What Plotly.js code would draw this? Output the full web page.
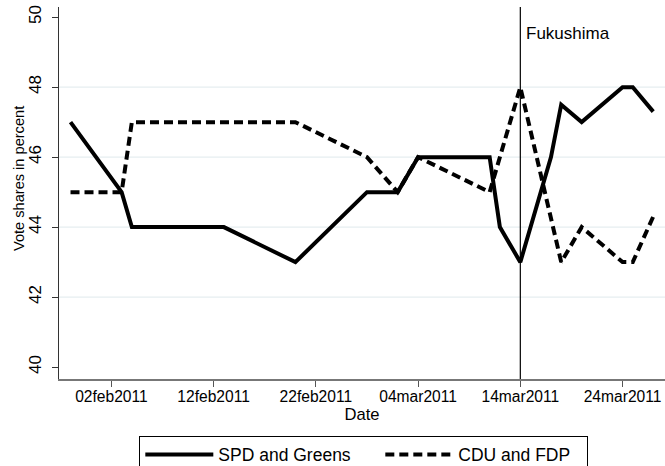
<!DOCTYPE html>
<html>
<head>
<meta charset="utf-8">
<script src="https://cdn.plot.ly/plotly-3.0.1.min.js"></script>
<style>html,body{margin:0;padding:0;background:#fff;}#chart{width:665px;height:466px;}</style>
</head>
<body>
<div id="chart"></div>
<script>
// SPD and Greens (solid)
var spdDates = ['2011-01-29','2011-02-03','2011-02-04','2011-02-13','2011-02-20','2011-02-27','2011-03-02','2011-03-04','2011-03-11','2011-03-12','2011-03-14','2011-03-17','2011-03-18','2011-03-20','2011-03-24','2011-03-25','2011-03-27'];
var spdValues = [47, 45, 44, 44, 43, 45, 45, 46, 46, 44, 43, 46, 47.5, 47, 48, 48, 47.3];
// CDU and FDP (dashed)
var cduDates = ['2011-01-29','2011-02-03','2011-02-04','2011-02-13','2011-02-20','2011-02-27','2011-03-02','2011-03-04','2011-03-11','2011-03-14','2011-03-18','2011-03-20','2011-03-24','2011-03-25','2011-03-27'];
var cduValues = [45, 45, 47, 47, 47, 46, 45, 46, 45, 48, 43, 44, 43, 43, 44.3];

var xTickDates = ['2011-02-02','2011-02-12','2011-02-22','2011-03-04','2011-03-14','2011-03-24'];
var xTickLabels = ['02feb2011','12feb2011','22feb2011','04mar2011','14mar2011','24mar2011'];
var yTickValues = [40, 42, 44, 46, 48, 50];
var yGridValues = [42, 44, 46, 48];
var eventDate = '2011-03-14';
var eventLabel = 'Fukushima';

var FONT = 'Liberation Sans, Arial, Helvetica, sans-serif';

var traces = [
  {x: spdDates, y: spdValues, type: 'scatter', mode: 'lines', name: 'SPD and Greens',
   line: {color: '#000', width: 4}, legendwidth: 157},
  {x: cduDates, y: cduValues, type: 'scatter', mode: 'lines', name: 'CDU and FDP',
   line: {color: '#000', width: 4, dash: '9px,5px'}, legendwidth: 124}
];

var shapes = yGridValues.map(function(v){
  return {type: 'line', xref: 'paper', x0: 0, x1: 1, yref: 'y', y0: v, y1: v,
          line: {color: '#e6eef0', width: 1.2}, layer: 'below'};
});
shapes.push({type: 'line', xref: 'x', x0: eventDate, x1: eventDate, yref: 'paper', y0: 0, y1: 1,
             line: {color: '#000', width: 1.2}, layer: 'above'});

var layout = {
  width: 665, height: 466,
  margin: {l: 59, r: 0, t: 7, b: 87, autoexpand: false},
  paper_bgcolor: '#fff', plot_bgcolor: '#fff',
  font: {family: FONT, color: '#000'},
  showlegend: true,
  xaxis: {
    type: 'date',
    range: ['2011-01-27 20:58', '2011-03-28 03:40'],
    tickvals: xTickDates, ticktext: xTickLabels,
    ticks: 'outside', ticklen: 6, tickwidth: 1, tickcolor: '#555',
    ticklabelstandoff: -3,
    showline: true, linecolor: '#777', linewidth: 1.6,
    showgrid: false, zeroline: false,
    tickfont: {family: FONT, size: 15.6, color: '#000'},
    title: {text: 'Date', font: {family: FONT, size: 16.6, color: '#000'}, standoff: 1},
    automargin: false
  },
  yaxis: {
    range: [39.66, 50.29],
    tickvals: yTickValues,
    tickangle: -90,
    ticks: 'outside', ticklen: 6, tickwidth: 1, tickcolor: '#333',
    ticklabelstandoff: 4,
    showline: true, linecolor: '#333', linewidth: 1,
    showgrid: false, zeroline: false,
    tickfont: {family: FONT, size: 17, color: '#000'},
    automargin: false
  },
  shapes: shapes,
  annotations: [
    {xref: 'x', x: eventDate, yref: 'paper', y: 0.93, text: eventLabel, showarrow: false,
     xanchor: 'left', yanchor: 'middle', xshift: 4, font: {family: FONT, size: 17, color: '#000'}},
    {xref: 'paper', x: -0.066, yref: 'paper', y: 0.5376, text: 'Vote shares in percent', showarrow: false,
     textangle: -90, xanchor: 'center', yanchor: 'middle', font: {family: FONT, size: 14.6, color: '#000'}}
  ],
  legend: {
    orientation: 'h', xref: 'paper', yref: 'paper', x: 0.503, xanchor: 'center', y: -0.1523, yanchor: 'top',
    bordercolor: '#000', borderwidth: 1, bgcolor: '#fff',
    itemwidth: 68, font: {family: FONT, size: 17.5, color: '#000'},
    traceorder: 'normal'
  }
};

Plotly.newPlot('chart', traces, layout, {displayModeBar: false, staticPlot: true});
</script>
</body>
</html>
